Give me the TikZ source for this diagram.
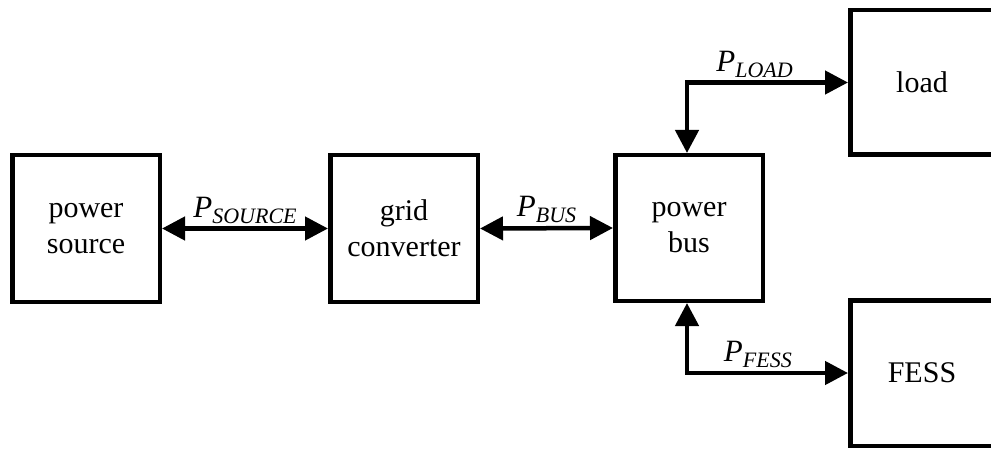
\documentclass[tikz,border=0pt]{standalone}
\usepackage{fontspec}
\setmainfont{Liberation Serif}
\usetikzlibrary{arrows.meta}
\newcommand{\Plab}[1]{\textit{P}\raisebox{-6pt}{\fontsize{22}{22}\selectfont\textit{#1}}}
\tikzset{
  blk/.style={draw, line width=4.5pt, rectangle, align=center,
    font=\fontsize{30}{36}\selectfont},
  conn/.style={line width=4.5pt, {Triangle[length=23pt,width=23pt]}-{Triangle[length=23pt,width=23pt]}},
  lab/.style={font=\fontsize{31}{31}\selectfont, inner sep=3pt}
}
\begin{document}
\begin{tikzpicture}[x=1pt,y=-1pt]
\useasboundingbox (0,0) rectangle (991,449);
\node[blk, minimum width=147.5pt, minimum height=146.5pt] (ps) at (86,228.5) {power\\source};
\node[blk, minimum width=147.5pt, minimum height=146.5pt] (gc) at (404,228.5) {grid\\converter};
\node[blk, minimum width=147.5pt, minimum height=145.5pt] (pb) at (689,228) {power\\bus};
\node[blk, minimum width=143.5pt, minimum height=144.5pt] (load) at (922,82.5) {load};
\node[blk, minimum width=143.5pt, minimum height=145.5pt] (fess) at (922,373) {FESS};
\draw[conn] (ps.east) -- node[lab, above] {\Plab{SOURCE}} (gc.west);
\draw[conn] (gc.east) -- node[lab, above] {\Plab{BUS}} (pb.west);
\draw[conn] ([xshift=-2pt]pb.north) |- node[lab, above, pos=0.71] {\Plab{LOAD}} (load.west);
\draw[conn] ([xshift=-2pt]pb.south) |- node[lab, above, pos=0.72] {\Plab{FESS}} (fess.west);
\end{tikzpicture}
\end{document}
